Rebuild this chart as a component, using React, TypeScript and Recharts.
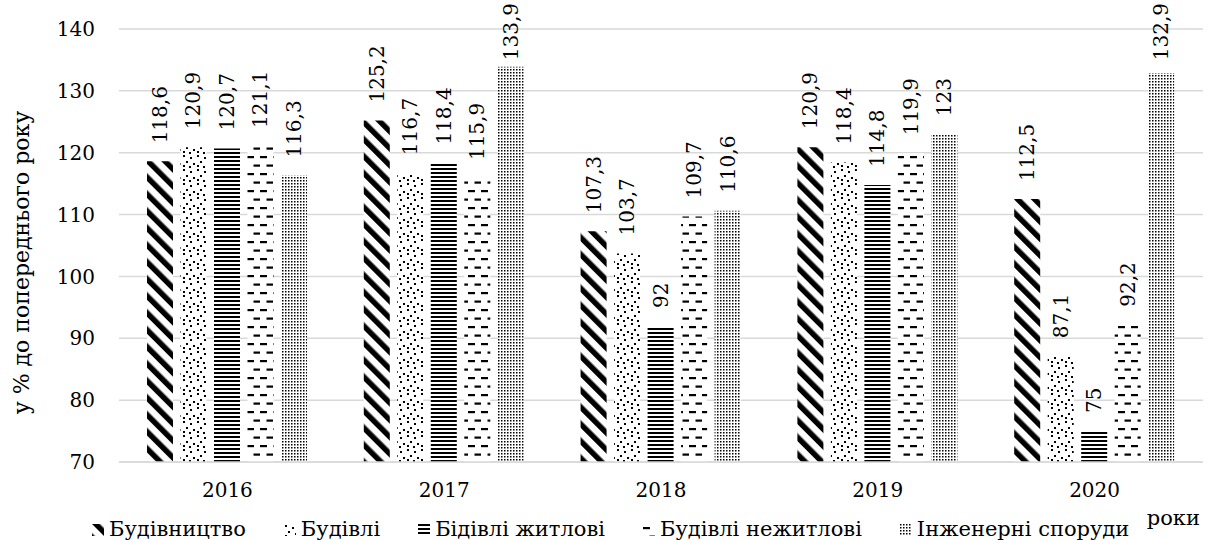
import React from 'react';
import { Bar, BarChart, CartesianGrid, LabelList, Legend, XAxis, YAxis } from 'recharts';

const years = ['2016', '2017', '2018', '2019', '2020'];
const budivnytstvo = [118.6, 125.2, 107.3, 120.9, 112.5];
const budivli = [120.9, 116.7, 103.7, 118.4, 87.1];
const zhytlovi = [120.7, 118.4, 92, 114.8, 75];
const nezhytlovi = [121.1, 115.9, 109.7, 119.9, 92.2];
const inzhenerni = [116.3, 133.9, 110.6, 123, 132.9];
const yTicks = [70, 80, 90, 100, 110, 120, 130, 140];

const series = [
  { key: 'budivnytstvo', name: 'Будівництво', values: budivnytstvo, fill: 'url(#p-stripe)' },
  { key: 'budivli', name: 'Будівлі', values: budivli, fill: 'url(#p-dots)' },
  { key: 'zhytlovi', name: 'Бідівлі житлові', values: zhytlovi, fill: 'url(#p-hlines)' },
  { key: 'nezhytlovi', name: 'Будівлі нежитлові', values: nezhytlovi, fill: 'url(#p-dash)' },
  { key: 'inzhenerni', name: 'Інженерні споруди', values: inzhenerni, fill: 'url(#p-grid)' },
];

const data = years.map((year, i) => {
  const row: Record<string, string | number> = { year };
  series.forEach((s) => (row[s.key] = s.values[i]));
  return row;
});

const FONT = '"DejaVu Serif", serif';
const LABEL_SIZE = 20;
const fmt = (v: number) => String(v).replace('.', ',');

// value labels sit above the bar, rotated; pushed down when they would run off the top
const renderLabel = (props: any) => {
  const { x, y, width, value } = props;
  const text = fmt(value);
  const len = text.split('').reduce((sum, ch) => sum + (ch === ',' ? 0.318 : 0.636), 0) * LABEL_SIZE;
  const cx = Number(x) + Number(width) / 2;
  const ty = Math.max(Number(y) - 18, len + 3);
  return (
    <text
      x={cx}
      y={ty}
      transform={`rotate(-90 ${cx} ${ty})`}
      textAnchor="start"
      dominantBaseline="central"
      fontFamily={FONT}
      fontSize={LABEL_SIZE}
      fill="#000"
    >
      {text}
    </text>
  );
};

const LegendRow = () => (
  <div style={{ position: 'relative', height: 40, fontFamily: FONT, fontSize: 21, color: '#000', lineHeight: 'normal' }}>
    <div style={{ position: 'absolute', left: 92, top: 17, display: 'flex', alignItems: 'center', gap: 38, whiteSpace: 'nowrap' }}>
      {series.map((s) => (
        <div key={s.key} style={{ display: 'flex', alignItems: 'center', gap: 5 }}>
          <svg width={12} height={12} style={{ marginTop: 2 }}>
            <rect width={12} height={12} fill={s.fill} />
          </svg>
          <span>{s.name}</span>
        </div>
      ))}
    </div>
    <div style={{ position: 'absolute', right: 3, top: 6 }}>роки</div>
  </div>
);

export default function App() {
  return (
    <div style={{ position: 'absolute', left: 0, top: 0, background: '#fff' }}>
      <BarChart
        width={1215}
        height={540}
        data={data}
        margin={{ top: 29, right: 12, bottom: 0, left: 0 }}
        barSize={26}
        barGap={7.5}
      >
        <defs>
          <pattern id="p-stripe" patternUnits="userSpaceOnUse" width={12} height={12} patternTransform="rotate(-45)">
            <rect width={12} height={12} fill="#fff" />
            <rect width={5.5} height={12} fill="#000" />
          </pattern>
          <pattern id="p-dots" patternUnits="userSpaceOnUse" width={14} height={14}>
            <rect width={14} height={14} fill="#fff" />
            <rect x={1} y={1} width={2} height={2} fill="#000" />
            <rect x={8} y={3} width={2} height={2} fill="#000" />
            <rect x={4} y={7} width={2} height={2} fill="#000" />
            <rect x={11} y={9} width={2} height={2} fill="#000" />
            <rect x={1} y={11} width={2} height={2} fill="#000" />
            <rect x={7} y={12} width={2} height={2} fill="#000" />
          </pattern>
          <pattern id="p-hlines" patternUnits="userSpaceOnUse" width={4} height={4}>
            <rect width={4} height={4} fill="#fff" />
            <rect width={4} height={2} fill="#000" />
          </pattern>
          <pattern id="p-dash" patternUnits="userSpaceOnUse" width={13} height={17}>
            <rect width={13} height={17} fill="#fff" />
            <rect x={0} y={3} width={7} height={2.2} fill="#000" />
            <rect x={6.5} y={11.5} width={7} height={2.2} fill="#000" />
          </pattern>
          <pattern id="p-grid" patternUnits="userSpaceOnUse" width={3} height={3}>
            <rect width={3} height={3} fill="#fff" />
            <rect width={1.5} height={1.5} fill="#000" />
          </pattern>
        </defs>
        <CartesianGrid vertical={false} stroke="#d9d9d9" strokeWidth={1.5} />
        <XAxis
          dataKey="year"
          height={38}
          tickLine={false}
          tickSize={0}
          tickMargin={21}
          axisLine={{ stroke: '#d9d9d9', strokeWidth: 1.5 }}
          tick={{ fontFamily: FONT, fontSize: 20, fill: '#000' }}
        />
        <YAxis
          width={119}
          domain={[70, 140]}
          ticks={yTicks}
          axisLine={false}
          tickLine={false}
          tickSize={0}
          tickMargin={24}
          tick={{ fontFamily: FONT, fontSize: 20, fill: '#000' }}
          label={{
            value: 'у % до попереднього року',
            angle: -90,
            position: 'insideLeft',
            offset: 21,
            dy: 17,
            style: { fontFamily: FONT, fontSize: 22, fill: '#000', textAnchor: 'middle' },
          }}
        />
        <Legend verticalAlign="bottom" height={40} content={() => <LegendRow />} />
        {series.map((s) => (
          <Bar key={s.key} dataKey={s.key} name={s.name} fill={s.fill} isAnimationActive={false}>
            <LabelList dataKey={s.key} content={renderLabel} />
          </Bar>
        ))}
      </BarChart>
    </div>
  );
}
